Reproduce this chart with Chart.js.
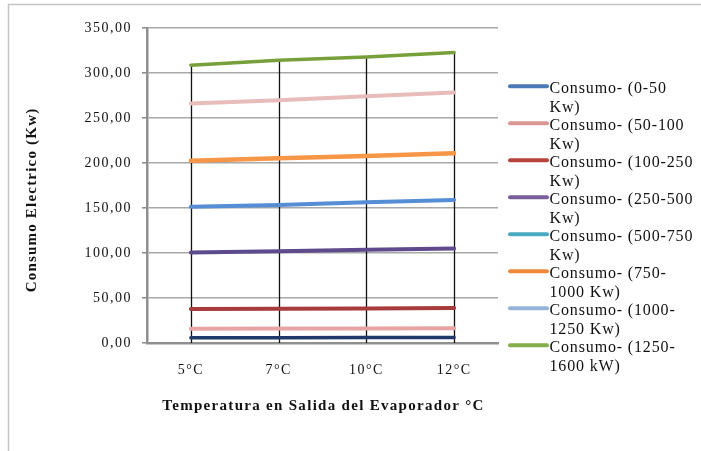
<!DOCTYPE html>
<html>
<head>
<meta charset="utf-8">
<script src="https://cdn.jsdelivr.net/npm/chart.js@4/dist/chart.umd.min.js"></script>
<style>
  html, body { margin: 0; padding: 0; background: #fff; }
  #wrap { position: relative; width: 701px; height: 451px; }
</style>
</head>
<body>
<div id="wrap"><canvas id="c" width="701" height="451"></canvas></div>
<script>
// Outlet temperature of the evaporator (x categories)
const categories = ['5°C', '7°C', '10°C', '12°C'];

// Y axis range and step (Kw)
const yMin = 0;
const yMax = 350;
const yStep = 50;

// Legend entries, two lines each
const seriesNames = [
  ['Consumo- (0-50', 'Kw)'],
  ['Consumo- (50-100', 'Kw)'],
  ['Consumo- (100-250', 'Kw)'],
  ['Consumo- (250-500', 'Kw)'],
  ['Consumo- (500-750', 'Kw)'],
  ['Consumo- (750-', '1000 Kw)'],
  ['Consumo- (1000-', '1250 Kw)'],
  ['Consumo- (1250-', '1600 kW)']
];

// Electric consumption per chiller capacity range (Kw)
const consumo0a50 = [5.8, 5.9, 6.0, 6.1];
const consumo50a100 = [15.9, 16.0, 16.1, 16.3];
const consumo100a250 = [37.7, 38.0, 38.4, 38.8];
const consumo250a500 = [100.5, 102.0, 103.5, 104.9];
const consumo500a750 = [151.5, 153.4, 156.4, 158.9];
const consumo750a1000 = [202.5, 205.2, 207.7, 210.7];
const consumo1000a1250 = [266.2, 269.8, 274.3, 278.3];
const consumo1250a1600 = [308.6, 314.2, 317.9, 322.7];

const seriesValues = [
  consumo0a50, consumo50a100, consumo100a250, consumo250a500,
  consumo500a750, consumo750a1000, consumo1000a1250, consumo1250a1600
];

// Colours of the plotted lines and of the legend swatches
const lineColors = ['#1f3a68', '#e8a4a4', '#a83b3b', '#5e4a8c', '#558ed5', '#f79646', '#e8bcbb', '#77a03b'];
const legendColors = ['#4a7bb7', '#d99694', '#b9433f', '#7a5f9c', '#4aa8c0', '#ef8a3c', '#95b3d7', '#86ad4c'];
const lineWidths = [3.5, 4, 4, 4, 4, 4.5, 4, 3.5];

const serif = '"Liberation Serif", "Times New Roman", serif';
const ink = '#111111';

const datasets = seriesValues.map((vals, i) => ({
  label: seriesNames[i].join(' '),
  data: vals,
  borderColor: lineColors[i],
  backgroundColor: lineColors[i],
  borderWidth: lineWidths[i],
  borderCapStyle: 'round',
  pointRadius: 0,
  pointHoverRadius: 0,
  tension: 0,
  fill: false
}));

// Wide glyph spacing for the tick labels
const tickSpacing = '1.5px';
const spacingPlugin = {
  id: 'spacing',
  beforeUpdate(chart) { chart.ctx.letterSpacing = tickSpacing; },
  beforeLayout(chart) { chart.ctx.letterSpacing = tickSpacing; },
  beforeDraw(chart) { chart.ctx.letterSpacing = tickSpacing; }
};

// White page and the outer frame
const framePlugin = {
  id: 'frame',
  beforeDraw(chart) {
    const ctx = chart.ctx;
    ctx.save();
    ctx.fillStyle = '#ffffff';
    ctx.fillRect(0, 0, chart.width, chart.height);
    ctx.strokeStyle = '#c4c4c4';
    ctx.lineWidth = 1.5;
    ctx.beginPath();
    ctx.moveTo(8.5, chart.height);
    ctx.lineTo(8.5, 4.5);
    ctx.lineTo(chart.width, 4.5);
    ctx.stroke();
    ctx.restore();
  }
};

// Drop lines from the highest series down to the category axis
const dropLinesPlugin = {
  id: 'dropLines',
  beforeDatasetsDraw(chart) {
    const { ctx, scales: { x, y }, chartArea } = chart;
    ctx.save();
    ctx.strokeStyle = '#111111';
    ctx.lineWidth = 1.3;
    categories.forEach((c, i) => {
      const top = Math.max(...seriesValues.map(s => s[i]));
      const px = Math.round(x.getPixelForValue(i)) + 0.5;
      ctx.beginPath();
      ctx.moveTo(px, y.getPixelForValue(top));
      ctx.lineTo(px, chartArea.bottom);
      ctx.stroke();
    });
    ctx.restore();
  }
};

// Axis titles and the two-line legend on the right
const textPlugin = {
  id: 'texts',
  afterDraw(chart) {
    const ctx = chart.ctx;
    const area = chart.chartArea;
    ctx.save();
    ctx.fillStyle = ink;

    // y title
    ctx.letterSpacing = '1.2px';
    ctx.font = 'bold 15px ' + serif;
    ctx.textAlign = 'center';
    ctx.textBaseline = 'middle';
    ctx.save();
    ctx.translate(32, 200);
    ctx.rotate(-Math.PI / 2);
    ctx.fillText('Consumo Electrico (Kw)', 0, 0);
    ctx.restore();

    // x title
    ctx.letterSpacing = '1.3px';
    ctx.fillText('Temperatura en Salida del Evaporador °C', (area.left + area.right) / 2 + 1, 406);

    // legend
    ctx.letterSpacing = '0.85px';
    ctx.font = '16px ' + serif;
    ctx.textAlign = 'left';
    const x0 = 510, x1 = 547, tx = 549.5;
    const firstY = 88.3, itemGap = 37, lineGap = 19.5;
    chart.data.datasets.forEach((ds, i) => {
      const yy = firstY + i * itemGap;
      ctx.strokeStyle = legendColors[i];
      ctx.lineWidth = 4;
      ctx.lineCap = 'round';
      ctx.beginPath();
      ctx.moveTo(x0, yy - 2);
      ctx.lineTo(x1, yy - 2);
      ctx.stroke();
      ctx.fillStyle = ink;
      seriesNames[i].forEach((t, k) => ctx.fillText(t, tx, yy + k * lineGap));
    });
    ctx.restore();
  }
};

new Chart(document.getElementById('c'), {
  type: 'line',
  data: { labels: categories, datasets },
  plugins: [spacingPlugin, framePlugin, dropLinesPlugin, textPlugin],
  options: {
    responsive: false,
    devicePixelRatio: 1,
    animation: false,
    events: [],
    layout: { padding: { left: 0, top: 28, right: 203, bottom: 0 } },
    plugins: {
      legend: { display: false },
      tooltip: { enabled: false },
      title: { display: false }
    },
    scales: {
      x: {
        type: 'category',
        offset: true,
        grid: { display: false, drawTicks: false },
        border: { display: true, color: '#8f8f8f', width: 2.5 },
        ticks: {
          color: ink,
          font: { family: serif, size: 14 },
          padding: 19,
          maxRotation: 0
        },
        afterFit(scale) { scale.height = 108; }
      },
      y: {
        min: yMin,
        max: yMax,
        grid: { color: '#a8a8a8', lineWidth: 1.6, tickLength: 5, tickColor: '#8f8f8f' },
        border: { display: true, color: '#8f8f8f', width: 2.5 },
        ticks: {
          stepSize: yStep,
          color: ink,
          font: { family: serif, size: 14 },
          padding: 10,
          callback: v => v.toFixed(2).replace('.', ',')
        },
        afterFit(scale) { scale.width = 147; }
      }
    }
  }
});
</script>
</body>
</html>
